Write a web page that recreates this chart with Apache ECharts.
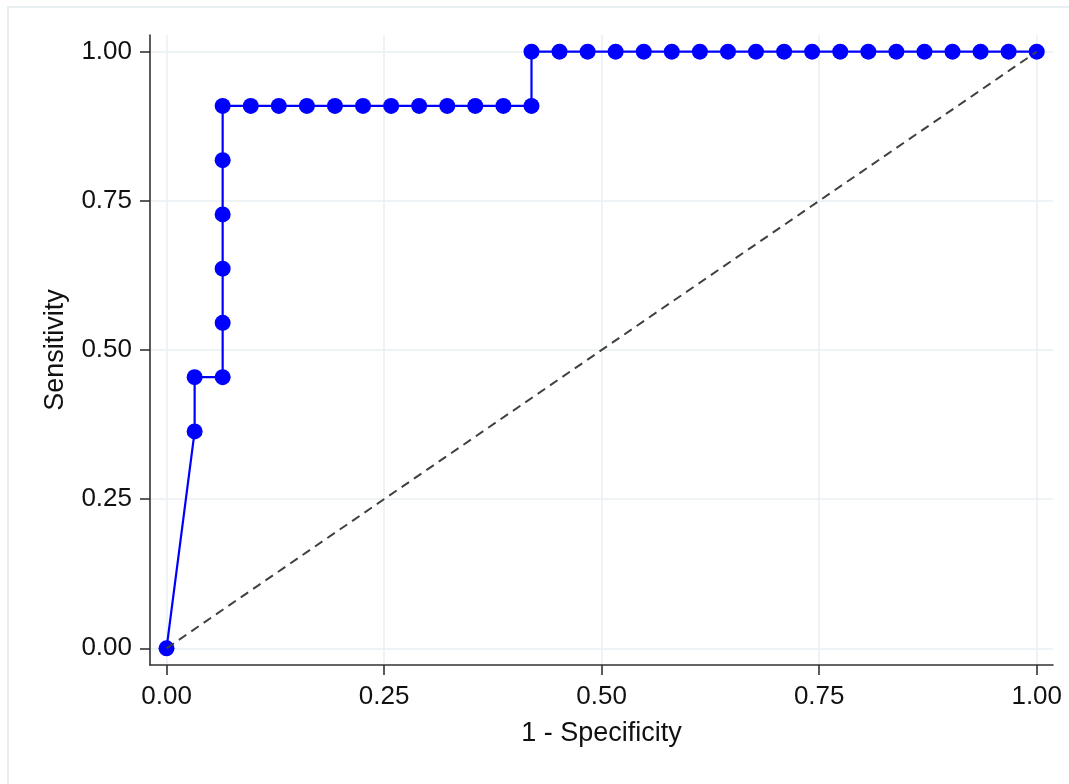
<!DOCTYPE html>
<html>
<head>
<meta charset="utf-8">
<title>ROC curve</title>
<script src="https://cdn.jsdelivr.net/npm/echarts@6/dist/echarts.min.js"></script>
<style>
  html, body { margin: 0; padding: 0; background: #ffffff; }
  #chart { width: 1069px; height: 784px; }
</style>
</head>
<body>
<div id="chart"></div>
<script>
// ROC operating points: 1 - specificity (x) and sensitivity (y)
var fpr = [
  0, 0.0323, 0.0323, 0.0645, 0.0645, 0.0645, 0.0645, 0.0645, 0.0645,
  0.0968, 0.1290, 0.1613, 0.1935, 0.2258, 0.2581, 0.2903, 0.3226, 0.3548, 0.3871, 0.4194,
  0.4194, 0.4516, 0.4839, 0.5161, 0.5484, 0.5806, 0.6129, 0.6452, 0.6774, 0.7097,
  0.7419, 0.7742, 0.8065, 0.8387, 0.8710, 0.9032, 0.9355, 0.9677, 1.0
];
var sensitivity = [
  0, 0.3636, 0.4545, 0.4545, 0.5455, 0.6364, 0.7273, 0.8182, 0.9091,
  0.9091, 0.9091, 0.9091, 0.9091, 0.9091, 0.9091, 0.9091, 0.9091, 0.9091, 0.9091, 0.9091,
  1, 1, 1, 1, 1, 1, 1, 1, 1, 1,
  1, 1, 1, 1, 1, 1, 1, 1, 1
];
// chance (reference) line
var refX = [0, 1];
var refY = [0, 1];
// tick values
var xTicks = [0, 0.25, 0.5, 0.75, 1];
var yTicks = [0, 0.25, 0.5, 0.75, 1];

var FONT = "'Liberation Sans', Arial, sans-serif";
var TEXT = '#111111';
var GRID = '#e9f1f3';

function pairs(xs, ys) {
  return xs.map(function (x, i) { return [x, ys[i]]; });
}

var gridLines = xTicks.map(function (v) { return { xAxis: v }; })
  .concat(yTicks.map(function (v) { return { yAxis: v }; }));

var chart = echarts.init(document.getElementById('chart'), null, { renderer: 'canvas' });
chart.setOption({
  animation: false,
  backgroundColor: '#ffffff',
  graphic: [{
    type: 'rect',
    shape: { x: 8, y: 7, width: 1100, height: 820 },
    style: { fill: 'none', stroke: '#e8eff1', lineWidth: 2 },
    silent: true,
    z: -10
  }],
  grid: { left: 150, right: 16, top: 35, bottom: 119, containLabel: false },
  xAxis: {
    type: 'value',
    min: -0.019,
    max: 1.0187,
    name: '1 - Specificity',
    nameLocation: 'middle',
    nameGap: 55,
    nameTextStyle: { fontFamily: FONT, fontSize: 27, color: TEXT },
    axisLine: { show: true, onZero: false, lineStyle: { color: '#333333', width: 1.6 } },
    axisTick: { show: true, length: 10, customValues: xTicks, lineStyle: { color: '#333333', width: 1.6 } },
    axisLabel: {
      customValues: xTicks, margin: 19,
      fontFamily: FONT, fontSize: 26, color: TEXT,
      formatter: function (v) { return v.toFixed(2); }
    },
    splitLine: { show: false }
  },
  yAxis: {
    type: 'value',
    min: -0.028,
    max: 1.028,
    name: 'Sensitivity',
    nameLocation: 'middle',
    nameGap: 81,
    nameRotate: 90,
    nameTextStyle: { fontFamily: FONT, fontSize: 27, color: TEXT },
    axisLine: { show: true, onZero: false, lineStyle: { color: '#333333', width: 1.6 } },
    axisTick: { show: true, length: 10, customValues: yTicks, lineStyle: { color: '#333333', width: 1.6 } },
    axisLabel: {
      customValues: yTicks, margin: 18,
      fontFamily: FONT, fontSize: 26, color: TEXT,
      formatter: function (v) { return v.toFixed(2); }
    },
    splitLine: { show: false }
  },
  series: [
    {
      // light gridlines at each tick value, kept beneath the curves
      type: 'line',
      data: [],
      silent: true,
      z: 0,
      markLine: {
        silent: true,
        z: 0,
        symbol: ['none', 'none'],
        label: { show: false },
        lineStyle: { type: 'solid', color: GRID, width: 1.5 },
        data: gridLines
      }
    },
    {
      name: 'ROC',
      type: 'line',
      data: pairs(fpr, sensitivity),
      symbol: 'circle',
      symbolSize: 16,
      itemStyle: { color: '#0000ff' },
      lineStyle: { color: '#0000ff', width: 2.2 },
      z: 3
    },
    {
      name: 'Reference',
      type: 'line',
      data: pairs(refX, refY),
      symbol: 'none',
      lineStyle: { color: '#404040', width: 2, type: [9, 6] },
      z: 4
    }
  ]
});
</script>
</body>
</html>
